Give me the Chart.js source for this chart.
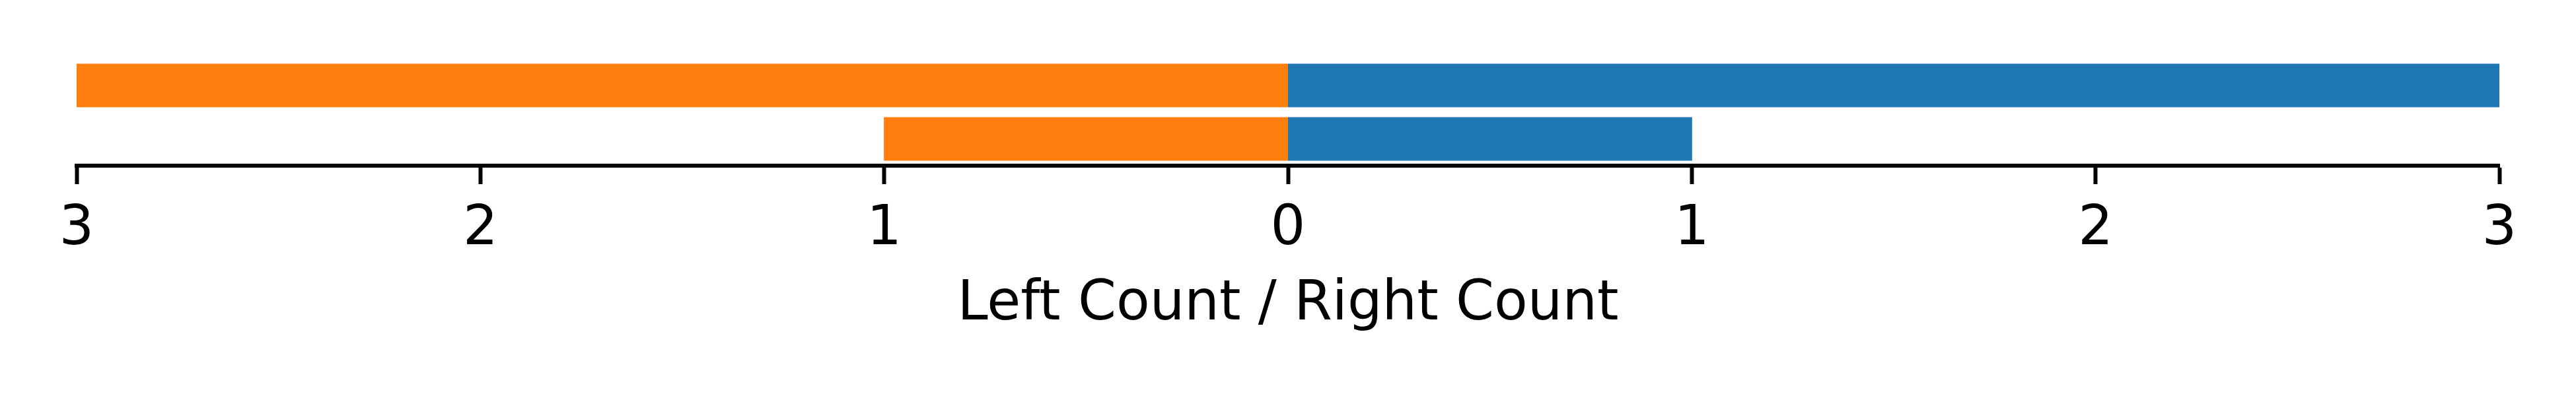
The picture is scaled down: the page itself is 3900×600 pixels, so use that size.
<!DOCTYPE html>
<html>
<head>
<meta charset="utf-8">
<script src="https://cdn.jsdelivr.net/npm/chart.js@4"></script>
<style>
  html, body { margin: 0; padding: 0; background: #fff; }
  canvas { display: block; }
</style>
</head>
<body>
<canvas id="c" width="3900" height="600"></canvas>
<script>
// Categories, top to bottom
const categories = ["A", "B"];
// Left counts (drawn to the left of zero) and right counts
const leftCounts = [3, 1];
const rightCounts = [3, 1];
const xMin = -3;
const xMax = 3;
const xStep = 1;
const axisTitle = "Left Count / Right Count";
const leftColor = "#ff7f0e";
const rightColor = "#1f77b4";

const FONT = "'DejaVu Sans', sans-serif";

const chart = new Chart(document.getElementById('c'), {
  type: 'bar',
  data: {
    labels: categories,
    datasets: [
      { label: 'Left', data: leftCounts.map(v => -v), backgroundColor: leftColor, borderWidth: 0,
        inflateAmount: 0.5, barPercentage: 1.0, categoryPercentage: 0.8 },
      { label: 'Right', data: rightCounts, backgroundColor: rightColor, borderWidth: 0,
        inflateAmount: 0.5, barPercentage: 1.0, categoryPercentage: 0.8 }
    ]
  },
  options: {
    indexAxis: 'y',
    responsive: false,
    animation: false,
    devicePixelRatio: 1,
    layout: { padding: { left: 116, right: 116, top: 89, bottom: 0 } },
    plugins: { legend: { display: false }, tooltip: { enabled: false } },
    scales: {
      y: {
        stacked: true,
        display: false,
        offset: true
      },
      x: {
        stacked: true,
        min: xMin,
        max: xMax,
        afterFit: (scale) => { scale.height = 349; scale.paddingLeft = 0; scale.paddingRight = 0; },
        ticks: {
          stepSize: xStep,
          autoSkip: false,
          maxRotation: 0,
          minRotation: 0,
          padding: 20,
          color: '#000',
          font: { family: FONT, size: 83 },
          callback: (v) => String(Math.abs(v))
        },
        grid: {
          drawOnChartArea: false,
          drawTicks: true,
          tickLength: 28,
          tickWidth: 6,
          tickColor: '#000'
        },
        border: { display: true, width: 6, color: '#000' },
        title: {
          display: true,
          text: axisTitle,
          color: '#000',
          font: { family: FONT, size: 83 },
          padding: { top: 0, bottom: 88 }
        }
      }
    }
  }
});
</script>
</body>
</html>
